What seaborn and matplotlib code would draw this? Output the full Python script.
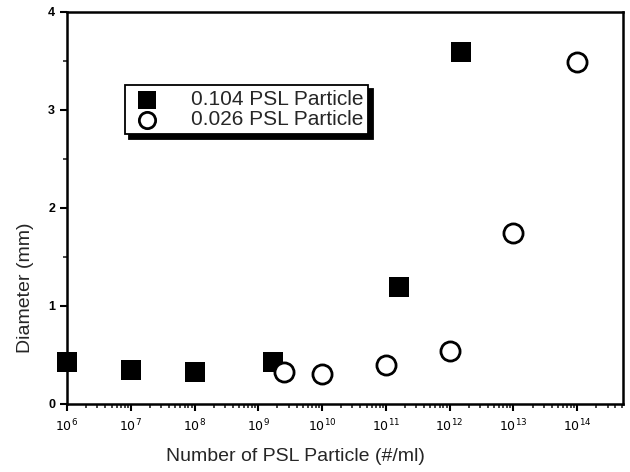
import matplotlib
matplotlib.use("Agg")
import matplotlib.pyplot as plt
import matplotlib.ticker as mticker
import seaborn as sns
import pandas as pd
import numpy as np

# Data
sq_x = [1e6, 1e7, 1e8, 1.7e9, 1.6e11, 1.5e12]
sq_y = [0.43, 0.35, 0.33, 0.43, 1.19, 3.59]
ci_x = [2.5e9, 1e10, 1e11, 1e12, 1e13, 1e14]
ci_y = [0.33, 0.31, 0.40, 0.54, 1.75, 3.49]
labels = ["0.104 PSL Particle", "0.026 PSL Particle"]
xtick_exps = [6, 7, 8, 9, 10, 11, 12, 13, 14]

df = pd.DataFrame({
    "x": sq_x + ci_x,
    "y": sq_y + ci_y,
    "series": [labels[0]] * len(sq_x) + [labels[1]] * len(ci_x),
})

sns.set_style("ticks")
plt.rcParams['font.family'] = ['Liberation Sans', 'DejaVu Sans']

fig = plt.figure(figsize=(6.3, 4.72), dpi=100)
ax = fig.add_axes([67/630, 1 - 404/472, (623-67)/630, (404-12)/472])

sns.scatterplot(data=df[df.series == labels[0]], x="x", y="y", ax=ax,
                marker="s", s=210, color="black", edgecolor="black",
                linewidth=0, label=labels[0], clip_on=False, zorder=3)
sns.scatterplot(data=df[df.series == labels[1]], x="x", y="y", ax=ax,
                marker="o", s=190, facecolor="white", edgecolor="black",
                linewidth=2, label=labels[1], clip_on=False, zorder=3)

ax.set_xscale("log")
ax.set_xlim(1e6, 10**14.72)
ax.set_ylim(0, 4)
ax.set_yticks([0, 1, 2, 3, 4])
ax.yaxis.set_minor_locator(mticker.MultipleLocator(0.5))
ax.set_xticks([10.0**e for e in xtick_exps])
ax.set_xticklabels([r"$10^{%d}$" % e for e in xtick_exps])
ax.xaxis.set_minor_locator(mticker.LogLocator(base=10, subs=np.arange(2, 10), numticks=20))
ax.xaxis.set_minor_formatter(mticker.NullFormatter())

for s in ax.spines.values():
    s.set_linewidth(1.8)
    s.set_color("black")
ax.tick_params(axis="both", which="major", length=5, width=1.5, direction="out",
               labelsize=9, colors="black")
ax.tick_params(axis="x", which="major", pad=5)
ax.tick_params(axis="both", which="minor", length=3, width=1.2, direction="out")
for t in ax.get_yticklabels():
    t.set_fontweight("bold")

ax.set_xlabel("Number of PSL Particle (#/ml)", fontsize=14)
ax.set_ylabel("Diameter (mm)", fontsize=14)
ax.xaxis.set_label_coords((295 - 67) / 556, -(448 - 404) / 392)
ax.yaxis.set_label_coords(-(67 - 34) / 556, (404 - 288) / 392)

leg = ax.legend(loc="upper left", bbox_to_anchor=(58/556, 1 - 73/392),
                frameon=True, fancybox=False, fontsize=15,
                shadow={"color": "black", "alpha": 1.0, "ox": 3, "oy": -3},
                borderpad=0.25, handletextpad=1.3, labelspacing=0.05,
                markerscale=0.85, borderaxespad=0, handlelength=1.6)
leg.get_frame().set_edgecolor("black")
leg.get_frame().set_linewidth(1.3)
leg.get_frame().set_alpha(1.0)

fig.savefig("out.png", dpi=100)
